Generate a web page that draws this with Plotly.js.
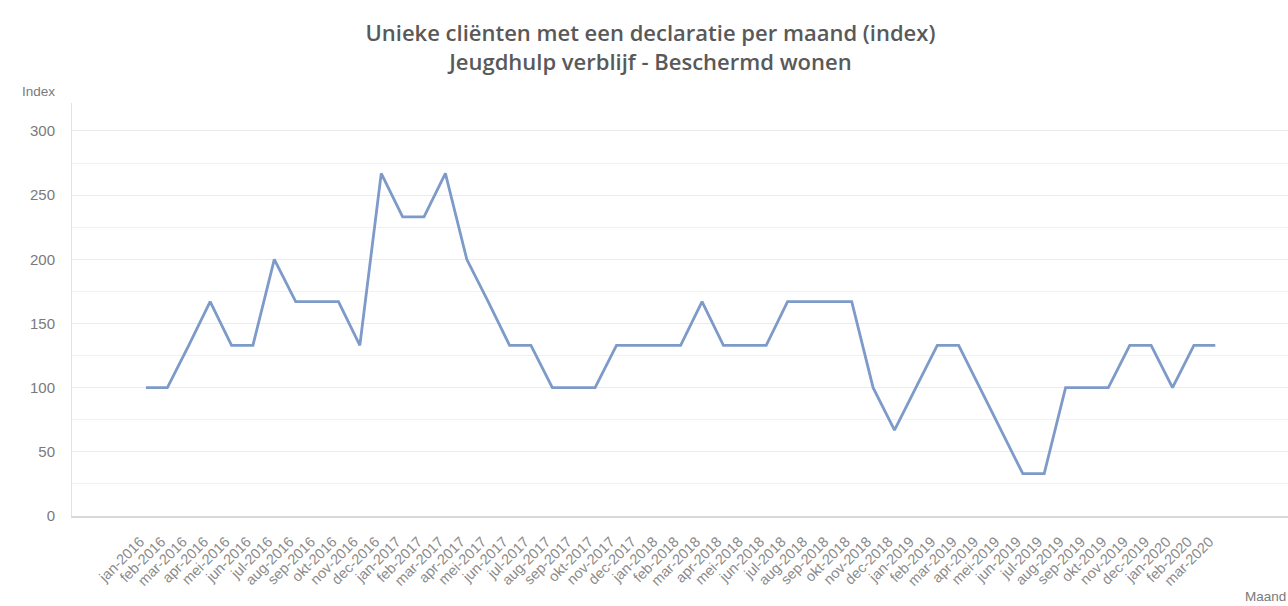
<!DOCTYPE html>
<html>
<head>
<meta charset="utf-8">
<script src="https://cdn.plot.ly/plotly-3.0.1.min.js"></script>
<style>html,body{margin:0;padding:0;background:#fff;}#chart{width:1288px;height:606px;}</style>
</head>
<body>
<div id="chart"></div>
<script>
const months = ["jan-2016","feb-2016","mar-2016","apr-2016","mei-2016","jun-2016","jul-2016","aug-2016","sep-2016","okt-2016","nov-2016","dec-2016",
"jan-2017","feb-2017","mar-2017","apr-2017","mei-2017","jun-2017","jul-2017","aug-2017","sep-2017","okt-2017","nov-2017","dec-2017",
"jan-2018","feb-2018","mar-2018","apr-2018","mei-2018","jun-2018","jul-2018","aug-2018","sep-2018","okt-2018","nov-2018","dec-2018",
"jan-2019","feb-2019","mar-2019","apr-2019","mei-2019","jun-2019","jul-2019","aug-2019","sep-2019","okt-2019","nov-2019","dec-2019",
"jan-2020","feb-2020","mar-2020"];
const indexValues = [100,100,133,167,133,133,200,167,167,167,133,267,
233,233,267,200,167,133,133,100,100,100,133,133,
133,133,167,133,133,133,167,167,167,167,100,67,
100,133,133,100,67,33,33,100,100,100,133,133,
100,133,133];
const yTicks = [0,50,100,150,200,250,300];

const trace = {
  x: months,
  y: indexValues,
  type: 'scatter',
  mode: 'lines',
  line: {color: '#7d9ac8', width: 2.8},
  hoverinfo: 'x+y'
};

const layout = {
  width: 1288, height: 606,
  margin: {l: 72, r: 0, t: 103, b: 90},
  paper_bgcolor: '#ffffff',
  plot_bgcolor: '#ffffff',
  showlegend: false,
  font: {family: 'Liberation Sans, Arial, sans-serif', color: '#7a7a7a', size: 13},
  title: {
    text: 'Unieke cliënten met een declaratie per maand (index)<br>Jeugdhulp verblijf - Beschermd wonen',
    font: {family: 'Open Sans, sans-serif', size: 22, color: '#595959', weight: 600},
    x: 0.505, xanchor: 'center', yref: 'container', y: 0.932, yanchor: 'middle'
  },
  xaxis: {
    type: 'category',
    range: [-3.46, 53.4],
    tickangle: -45,
    showgrid: false,
    showline: true,
    linecolor: '#d9d9d9',
    linewidth: 1.5,
    ticks: '',
    ticklabelshift: -6,
    ticklabelstandoff: 10,
    tickfont: {size: 14.5, color: '#8a8a8a'},
    fixedrange: true
  },
  yaxis: {
    range: [0, 321.8],
    tickvals: yTicks,
    ticktext: yTicks.map(String),
    showgrid: true,
    gridcolor: '#ebebeb',
    gridwidth: 1,
    minor: {dtick: 25, tick0: 0, showgrid: true, gridcolor: '#f1f1f1', gridwidth: 1},
    showline: true,
    linecolor: '#e3e3e3',
    zeroline: false,
    ticks: '',
    ticklabelstandoff: 13,
    tickfont: {size: 15, color: '#7a7a7a'},
    fixedrange: true
  },
  annotations: [
    {text: 'Index', xref: 'paper', yref: 'paper', x: -0.043, y: 1.028, xanchor: 'left', yanchor: 'middle', showarrow: false, font: {size: 13.5, color: '#7a7a7a'}},
    {text: 'Maand', xref: 'paper', yref: 'paper', x: 1, y: -0.196, xanchor: 'right', yanchor: 'middle', showarrow: false, font: {size: 13.5, color: '#7a7a7a'}}
  ]
};

Plotly.newPlot('chart', [trace], layout, {displayModeBar: false, staticPlot: true});
</script>
</body>
</html>
